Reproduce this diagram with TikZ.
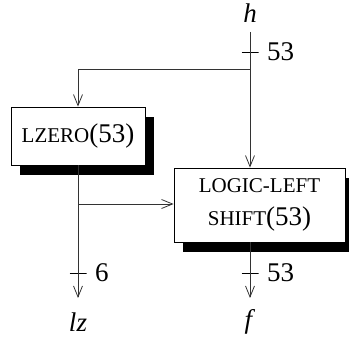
\documentclass[tikz,border=0pt]{standalone}
\usepackage{fontspec}
\setmainfont{Liberation Serif}
\usetikzlibrary{arrows.meta, shadows}
\newcommand{\smcp}[1]{{\fontsize{21}{24}\selectfont #1}}

\begin{document}
\begin{tikzpicture}[
    x=1pt, y=1pt,
    font=\fontsize{27}{31}\selectfont,
    unit/.style={rectangle, draw=black, fill=white, line width=0.8pt, align=center, inner sep=0pt,
        drop shadow={shadow xshift=9pt, shadow yshift=-10pt, fill=black, opacity=1}},
    wire/.style={-{Straight Barb[length=11pt, width=9pt]}, line width=0.8pt, draw=black!80},
    tick/.style={rectangle, minimum width=17pt, minimum height=3pt, inner sep=0pt,
        path picture={\draw[line width=0.9pt] (path picture bounding box.west) -- (path picture bounding box.east);}},
    width/.style={label={[xshift=5pt]right:#1}}
]
    \useasboundingbox (0,0) rectangle (349,338);

    % Nodes
    \node (h) at (250,325) {\textit{h}};
    \node[unit, minimum width=134pt, minimum height=58pt] (lzero) at (78,202) {\smcp{LZERO}(53)};
    \node[unit, minimum width=171pt, minimum height=74pt] (shift) at (259.5,133) {\smcp{LOGIC-LEFT}\\[2pt]\smcp{SHIFT}(53)};
    \node (lz) at (78,16) {\textit{lz}};
    \node (f) at (250,16) {\textit{f}};

    \coordinate (top) at (250,306);
    \coordinate (fork) at (250,269);
    \coordinate (split) at (78,134);
    \coordinate (lzin) at (78,40);
    \coordinate (fin) at (250,40);

    % Bus widths
    \node[tick, width=53] (t1) at (250,286) {};
    \node[tick, width=6] (t2) at (78,65) {};
    \node[tick, width=53] (t3) at (250,65) {};

    % Connections
    \draw[wire] (top) -- (shift.north -| top);
    \draw[wire] (fork) -| (lzero.north);
    \draw[wire] (lzero.south) -- (lzin);
    \draw[wire] (split) -- (shift.west |- split);
    \draw[wire] (shift.south -| fin) -- (fin);
\end{tikzpicture}
\end{document}
